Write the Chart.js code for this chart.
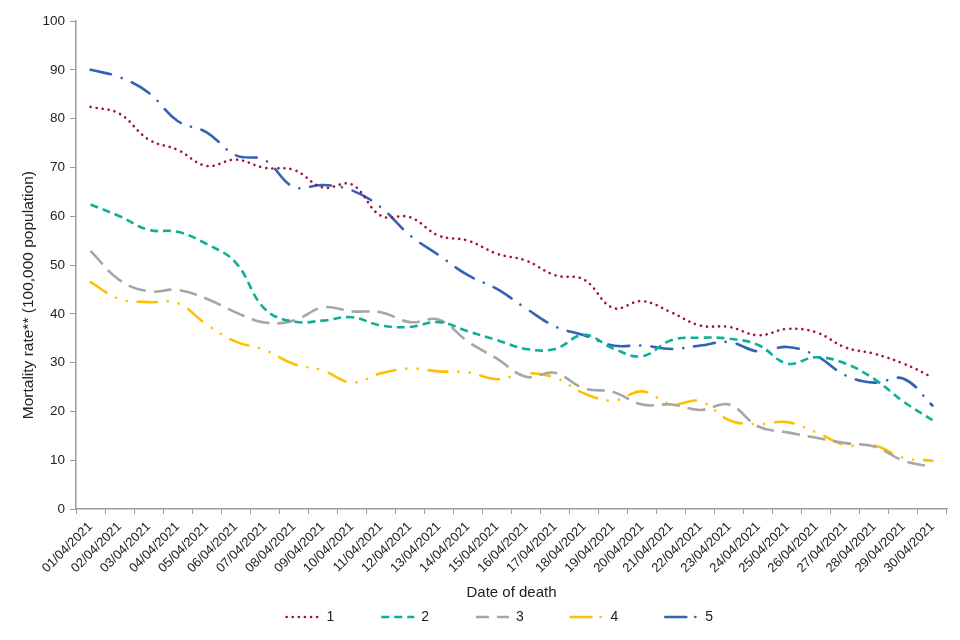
<!DOCTYPE html>
<html>
<head>
<meta charset="utf-8">
<script src="https://cdn.jsdelivr.net/npm/chart.js"></script>
<style>
  html, body { margin: 0; padding: 0; background: #fff; }
  #wrap { width: 960px; height: 640px; position: relative; }
</style>
</head>
<body>
<div id="wrap"><canvas id="mortalityChart"></canvas></div>
<script>
// dates of death, 1-30 April 2021
var dates = [
  '01/04/2021', '02/04/2021', '03/04/2021', '04/04/2021', '05/04/2021', '06/04/2021',
  '07/04/2021', '08/04/2021', '09/04/2021', '10/04/2021', '11/04/2021', '12/04/2021',
  '13/04/2021', '14/04/2021', '15/04/2021', '16/04/2021', '17/04/2021', '18/04/2021',
  '19/04/2021', '20/04/2021', '21/04/2021', '22/04/2021', '23/04/2021', '24/04/2021',
  '25/04/2021', '26/04/2021', '27/04/2021', '28/04/2021', '29/04/2021', '30/04/2021'
];

var seriesNames = ['1', '2', '3', '4', '5'];

// mortality rate per 100,000
var group1 = [82.4, 81.0, 75.7, 73.6, 70.3, 71.6, 69.9, 69.5, 65.9, 66.5,
              60.1, 59.8, 56.0, 55.0, 52.3, 50.9, 47.9, 47.0, 41.2, 42.6,
              40.3, 37.6, 37.3, 35.6, 36.9, 36.2, 33.1, 31.8, 29.8, 27.0];
var group2 = [62.4, 60.0, 57.2, 56.8, 54.3, 50.5, 41.0, 38.4, 38.6, 39.3,
              37.6, 37.3, 38.3, 36.4, 34.6, 32.8, 32.8, 35.7, 32.9, 31.3,
              34.6, 35.1, 34.9, 33.6, 29.8, 31.1, 29.8, 26.6, 22.0, 18.2];
var group3 = [52.9, 46.9, 44.6, 44.9, 43.1, 40.3, 38.2, 38.6, 41.3, 40.5,
              40.3, 38.3, 38.8, 34.3, 30.8, 27.1, 27.9, 24.7, 24.0, 21.4,
              21.4, 20.3, 21.4, 16.9, 15.7, 14.6, 13.5, 12.8, 9.9, 8.6];
var group4 = [46.5, 43.0, 42.4, 42.2, 37.8, 34.3, 32.6, 29.7, 28.4, 25.9,
              27.8, 28.8, 28.2, 28.0, 26.6, 27.8, 26.9, 23.7, 22.2, 24.1,
              21.5, 22.1, 18.2, 17.4, 17.8, 15.7, 13.1, 13.0, 10.5, 9.9];
var group5 = [90.0, 88.5, 85.3, 79.5, 77.2, 72.5, 71.5, 66.0, 66.4, 65.3,
              61.8, 56.1, 52.0, 47.9, 45.1, 41.1, 37.4, 35.6, 33.5, 33.5,
              32.8, 33.5, 34.2, 32.3, 33.2, 31.4, 27.4, 25.9, 26.7, 21.2];

var colours = ['#A2113F', '#0FAE96', '#A6A6A6', '#FFC000', '#3462B6'];
// dotted, dashed, long dash, long dash dot dot, long dash dot
var dashes = [[0.1, 6], [8, 5], [18, 8], [19, 11, 0.1, 11, 0.1, 11], [21, 11, 0.1, 11]];
var legendDashes = [[0.1, 6], [8, 5], [13, 8], [21, 9, 0.1, 9], [21, 9, 0.1, 9]];
var caps = ['round', 'butt', 'butt', 'round', 'round'];

var allValues = [group1, group2, group3, group4, group5];

var font = "'Liberation Sans', Arial, sans-serif";

var datasets = allValues.map(function(vals, i) {
  return {
    label: seriesNames[i],
    data: vals,
    borderColor: colours[i],
    backgroundColor: colours[i],
    borderWidth: 2.6,
    borderDash: dashes[i],
    borderCapStyle: caps[i],
    pointRadius: 0,
    tension: 0.4,
    fill: false
  };
});

// spaces widen the gap between legend entries without making the legend taller
function padText(txt, n) {
  return txt + new Array(n + 1).join(' ');
}

var ctx = document.getElementById('mortalityChart').getContext('2d');

var chart = new Chart(ctx, {
  type: 'line',
  data: { labels: dates, datasets: datasets },
  options: {
    responsive: true,
    maintainAspectRatio: false,
    animation: false,
    layout: { padding: { left: 14, right: 13, top: 21, bottom: 6 } },
    plugins: {
      legend: {
        position: 'bottom',
        fullSize: false,
        labels: {
          usePointStyle: true,
          pointStyle: 'line',
          pointStyleWidth: 33,
          boxWidth: 33,
          boxHeight: 10,
          padding: 8,
          color: '#222',
          font: { family: font, size: 14 },
          generateLabels: function(chart) {
            var items = Chart.defaults.plugins.legend.labels.generateLabels(chart);
            items.forEach(function(it, i) {
              var ds = chart.data.datasets[it.datasetIndex];
              it.text = padText(it.text, i < items.length - 1 ? 10 : 6);
              it.strokeStyle = ds.borderColor;
              it.lineWidth = ds.borderWidth;
              it.lineDash = legendDashes[it.datasetIndex];
              it.lineCap = ds.borderCapStyle;
            });
            return items;
          }
        }
      },
      tooltip: { enabled: false }
    },
    scales: {
      x: {
        offset: true,
        grid: {
          offset: true,
          drawOnChartArea: false,
          color: '#9a9a9a',
          tickLength: 5,
          lineWidth: 1
        },
        border: { color: '#9a9a9a', width: 1.5 },
        ticks: {
          color: '#222',
          minRotation: 45,
          maxRotation: 45,
          autoSkip: false,
          padding: 5,
          font: { family: font, size: 13 }
        },
        title: {
          display: true,
          text: 'Date of death',
          color: '#222',
          padding: { top: 2, bottom: 0 },
          font: { family: font, size: 15 }
        },
        afterFit: function(scale) { scale.height = 93; }
      },
      y: {
        min: 0,
        max: 100,
        grid: {
          drawOnChartArea: false,
          color: '#9a9a9a',
          tickLength: 6
        },
        border: { color: '#9a9a9a', width: 1.5 },
        ticks: {
          stepSize: 10,
          color: '#222',
          padding: 5,
          font: { family: font, size: 13.5 }
        },
        title: {
          display: true,
          // trailing spaces shift the rotated title down, as in the source
          text: padText('Mortality rate** (100,000 population)', 14),
          color: '#222',
          padding: { top: 5, bottom: 4 },
          font: { family: font, size: 15.5 }
        },
        afterFit: function(scale) { scale.width = 62; }
      }
    }
  }
});
</script>
</body>
</html>
